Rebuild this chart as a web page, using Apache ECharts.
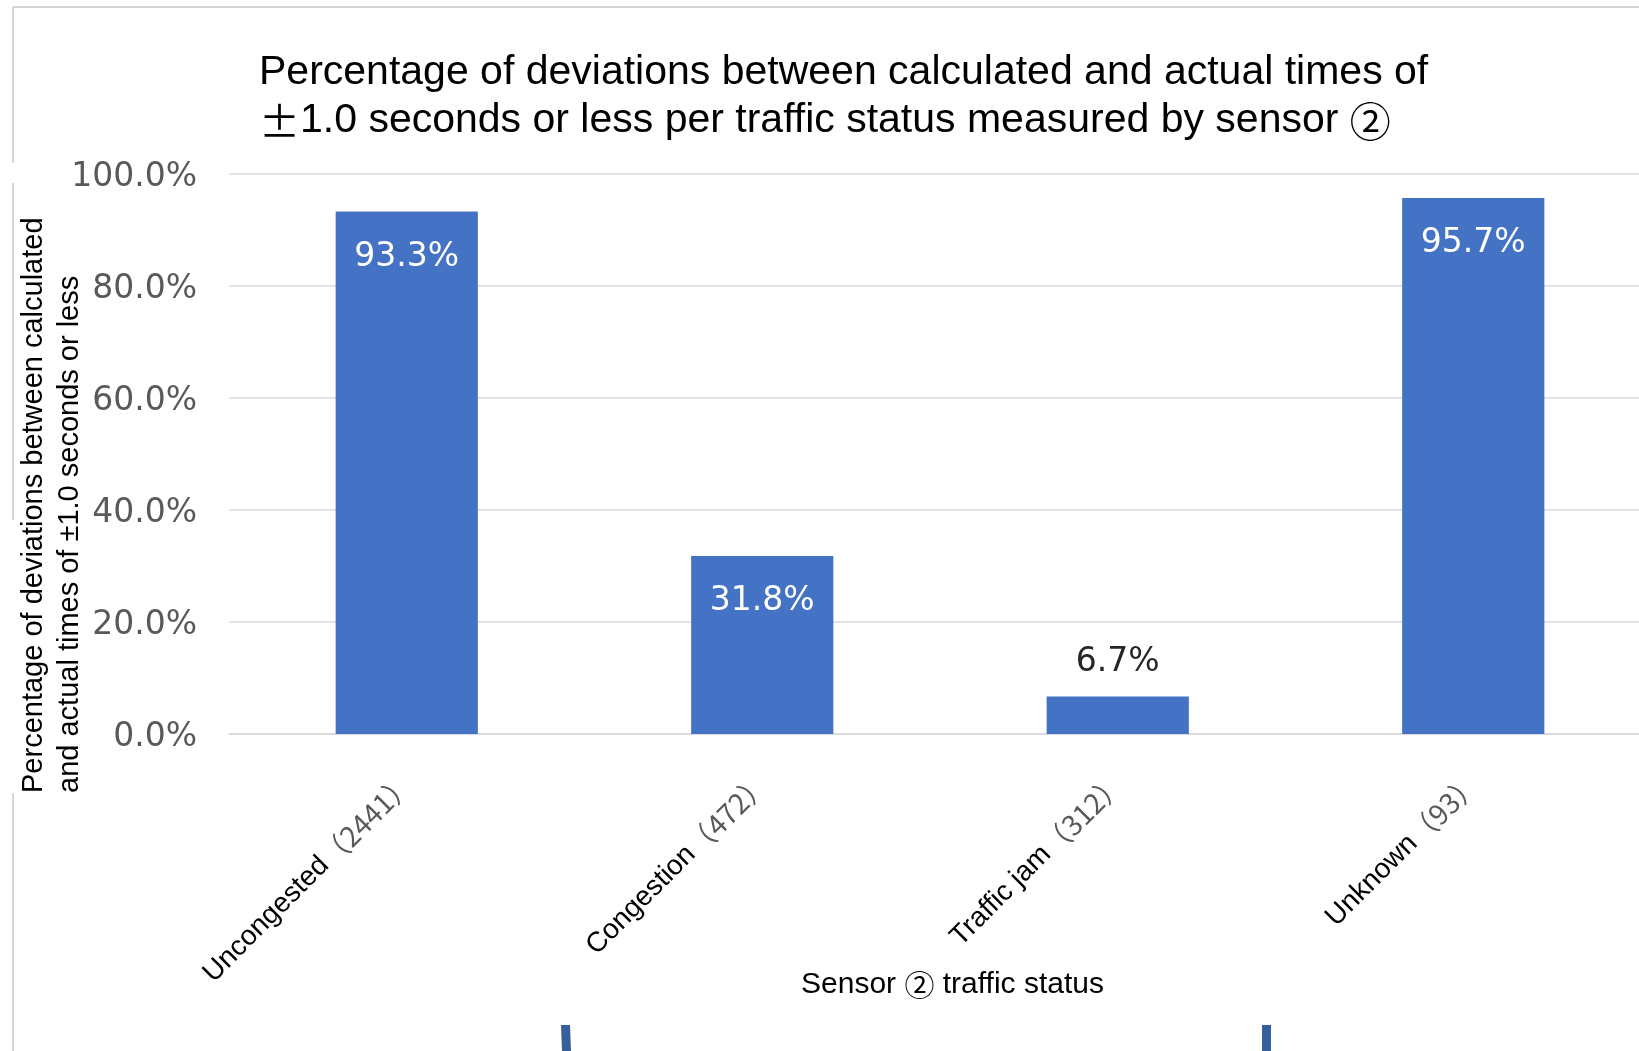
<!DOCTYPE html>
<html>
<head>
<meta charset="utf-8">
<script src="https://cdn.jsdelivr.net/npm/echarts@6/dist/echarts.min.js"></script>
<style>
html,body{margin:0;padding:0;background:#fff;}
#chart{width:1639px;height:1051px;}
</style>
</head>
<body>
<div id="chart"></div>
<script>
const titleText = 'Percentage of deviations between calculated and actual times of\n{pm|\u00b1}1.0 seconds or less per traffic status measured by sensor {c|\u2461}';
const yAxisTitle = 'Percentage of deviations between calculated\nand actual times of \u00b11.0 seconds or less';
const xAxisTitle = 'Sensor {c|\u2461} traffic status';
const categories = ['Uncongested', 'Congestion', 'Traffic jam', 'Unknown'];
const counts = ['2441', '472', '312', '93'];
const values = [93.3, 31.8, 6.7, 95.7];
const yMin = 0, yMax = 100, yStep = 20;

const chart = echarts.init(document.getElementById('chart'), null, {renderer: 'canvas'});

const seriesData = values.map(v => {
  if (v < 15) {
    return {value: v, label: {position: 'top', color: '#262626', distance: 18}};
  }
  return {value: v};
});

chart.setOption({
  backgroundColor: '#ffffff',
  animation: false,
  title: {
    text: titleText,
    left: 259,
    top: 49,
    padding: 0,
    textStyle: {
      fontFamily: 'Liberation Sans',
      fontSize: 41,
      fontWeight: 'normal',
      color: '#000000',
      lineHeight: 48,
      rich: {
        pm: {fontFamily: 'Noto Sans CJK JP', fontSize: 41, lineHeight: 48, color: '#000000'},
        c: {fontFamily: 'Noto Sans CJK JP', fontSize: 41, lineHeight: 48, color: '#000000'}
      }
    }
  },
  grid: {left: 229, width: 1422, top: 174, bottom: 317, containLabel: false, outerBoundsMode: 'none'},
  xAxis: {
    type: 'category',
    data: categories,
    axisTick: {show: false},
    axisLine: {show: true, lineStyle: {color: '#d9d9d9', width: 1.5}},
    axisLabel: {
      interval: 0,
      rotate: 45,
      margin: 45,
      padding: [0, -2, 0, 0],
      formatter: (v, i) => '{a|' + v + '}{b|\uff08' + counts[i] + '\uff09}',
      rich: {
        a: {fontFamily: 'Liberation Sans', fontSize: 28, color: '#000000'},
        b: {fontFamily: 'Noto Sans CJK JP', fontSize: 28, color: '#595959'}
      }
    },
    name: xAxisTitle,
    nameLocation: 'middle',
    nameGap: 236,
    nameMoveOverlap: false,
    nameTextStyle: {
      fontFamily: 'Liberation Sans', fontSize: 30, color: '#000000', padding: [0, 0, 0, 25],
      rich: {c: {fontFamily: 'Noto Sans CJK JP', fontSize: 30, color: '#000000'}}
    }
  },
  yAxis: {
    type: 'value',
    min: yMin,
    max: yMax,
    interval: yStep,
    axisLine: {show: false},
    axisTick: {show: false},
    splitLine: {lineStyle: {color: '#d9d9d9', width: 1.5}},
    axisLabel: {
      margin: 32,
      formatter: v => '{v|' + v.toFixed(1) + '%}',
      rich: {
        v: {fontFamily: 'DejaVu Sans', fontSize: 33, color: '#595959', padding: [6, 0, 0, 0]}
      }
    }
  },
  series: [{
    type: 'bar',
    data: seriesData,
    barWidth: '40%',
    itemStyle: {color: '#4472c4'},
    label: {
      show: true,
      position: 'insideTop',
      distance: 29,
      formatter: p => p.value.toFixed(1) + '%',
      fontFamily: 'DejaVu Sans',
      fontSize: 33,
      color: '#ffffff'
    }
  }],
  graphic: [
    {type: 'line', silent: true, shape: {x1: 13, y1: 7, x2: 1639, y2: 7}, style: {stroke: '#c8c8c8', lineWidth: 1.5}},
    {type: 'line', silent: true, shape: {x1: 13, y1: 7, x2: 13, y2: 163}, style: {stroke: '#c8c8c8', lineWidth: 1.5}},
    {type: 'line', silent: true, shape: {x1: 13, y1: 183, x2: 13, y2: 520}, style: {stroke: '#c8c8c8', lineWidth: 1.5}},
    {type: 'line', silent: true, shape: {x1: 13, y1: 793, x2: 13, y2: 1051}, style: {stroke: '#c8c8c8', lineWidth: 1.5}},
    {type: 'polygon', silent: true, shape: {points: [[561, 1025], [570, 1025], [571, 1051], [562, 1051]]}, style: {fill: '#35609b'}},
    {type: 'polygon', silent: true, shape: {points: [[1262, 1025], [1271, 1025], [1271, 1051], [1262, 1051]]}, style: {fill: '#35609b'}},
    {
      type: 'text', silent: true, x: 16, y: 793, rotation: Math.PI / 2,
      style: {
        text: yAxisTitle,
        fontFamily: 'Liberation Sans',
        fontSize: 29,
        fill: '#000000',
        lineHeight: 36,
        align: 'left',
        verticalAlign: 'top'
      }
    }
  ]
});
</script>
</body>
</html>
